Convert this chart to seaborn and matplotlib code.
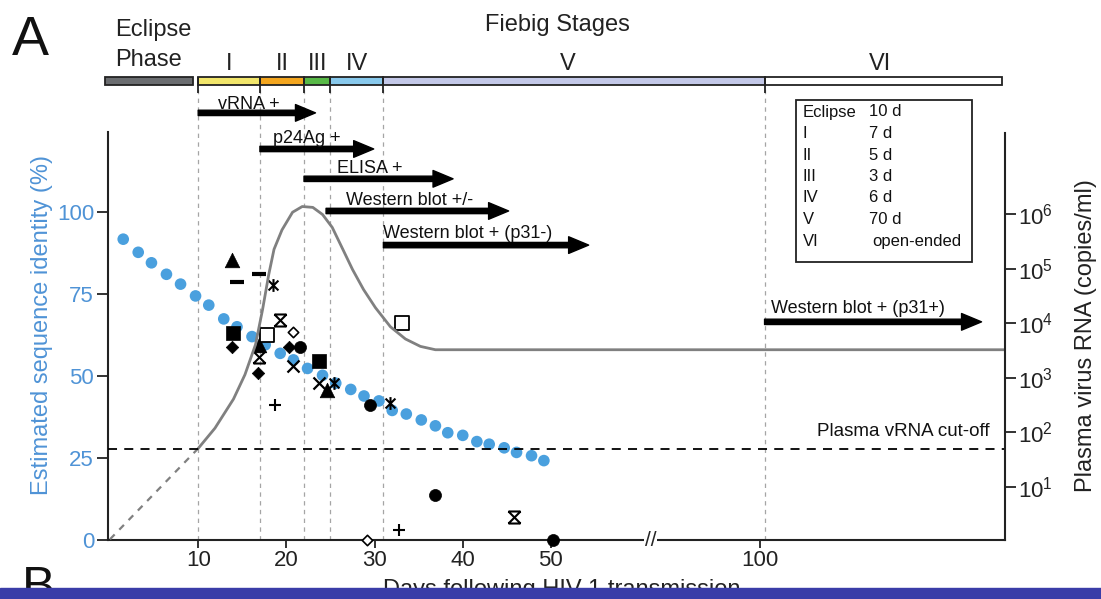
import numpy as np
import matplotlib
matplotlib.use("Agg")
import matplotlib.pyplot as plt
import seaborn as sns
from matplotlib.patches import Rectangle
from matplotlib.path import Path

# ---------------- data ----------------
seq_days = [1.5, 3.2, 4.7, 6.4, 8.0, 9.7, 11.2, 12.9, 14.4, 16.1, 17.6, 19.3, 20.8,
            22.4, 24.1, 25.6, 27.3, 28.8, 30.5, 32.0, 33.6, 35.3, 36.9, 38.3, 40.0,
            41.6, 43.0, 44.7, 46.1, 47.8, 49.2]
seq_identity = [91.7, 87.7, 84.5, 81.0, 78.0, 74.4, 71.6, 67.4, 65.0, 62.0, 59.5, 56.9,
                54.9, 52.3, 50.2, 47.8, 45.9, 43.9, 42.4, 39.5, 38.4, 36.6, 34.8, 32.7,
                31.9, 30.0, 29.2, 28.1, 26.7, 25.7, 24.2]

vl_early_days = [0, 10]
vl_early_copies = [1.1, 51]
vl_days = [10, 11.9, 14.0, 15.3, 16.5, 17.3, 18.0, 18.6, 19.5, 20.7, 21.8, 23.0, 24.1,
           25.2, 26.4, 27.5, 28.75, 30.1, 31.8, 33.5, 35.2, 36.9, 50, 100, 158.4]
vl_copies = [51, 120, 410, 1150, 4100, 18000, 79000, 230000, 520000, 1100000, 1400000,
             1350000, 1000000, 580000, 230000, 98000, 42000, 19500, 8700, 5200, 3800,
             3300, 3300, 3300, 3300]
cutoff_copies = 50

stage_labels = ["I", "II", "III", "IV", "V", "VI"]
stage_lengths = [10, 7, 5, 3, 6, 70, 56.6]
stage_colors = ["#6b6d70", "#f2e66b", "#f4a61f", "#58b947", "#88c9ec", "#c3c8e8", "#ffffff"]
legend_names = ["Eclipse", "I", "II", "III", "IV", "V", "VI"]
legend_durations = ["10 d", "7 d", "5 d", "3 d", "6 d", "70 d", "open-ended"]

assay_labels = ["vRNA +", "p24Ag +", "ELISA +", "Western blot +/-",
                "Western blot + (p31-)", "Western blot + (p31+)"]
assay_start = [10, 17, 22, 24.5, 31, 101]
assay_end = [23.3, 29.9, 38.9, 45.2, 59.0, 152.8]

tri_days = [13.8, 16.9, 24.6]
tri_ident = [85.4, 59.5, 45.7]
dash_days = [14.4, 16.9]
dash_ident = [78.6, 81.0]
sq_days = [14.0, 23.7]
sq_ident = [63.0, 54.7]
osq_days = [17.8, 33.1]
osq_ident = [62.5, 66.1]
dia_days = [13.8, 16.8, 20.3]
dia_ident = [58.8, 50.8, 58.8]
odia_days = [20.8, 29.1]
odia_ident = [63.5, 0.0]
circ_days = [21.5, 29.5, 36.9, 50.6]
circ_ident = [58.9, 41.2, 13.7, 0.0]
ast_days = [18.5, 25.4, 31.8]
ast_ident = [77.7, 47.8, 41.9]
x_days = [20.8, 23.7]
x_ident = [53.0, 47.8]
hg_days = [19.3, 16.9, 45.8]
hg_ident = [67.1, 55.9, 7.1]
plus_days = [18.75, 32.8]
plus_ident = [41.2, 3.0]

xtick_days = [10, 20, 30, 40, 50, 100]
xtick_labels = ["10", "20", "30", "40", "50", "100"]
left_ticks = [0, 25, 50, 75, 100]
right_ticks = [1e1, 1e2, 1e3, 1e4, 1e5, 1e6]
right_tick_labels = [r"$\mathregular{10^{%d}}$" % k for k in range(1, 7)]

# ---------------- style ----------------
sns.set_theme(style="white")
plt.rcParams["font.family"] = ["Liberation Sans", "DejaVu Sans"]
plt.rcParams["mathtext.fontset"] = "custom"
plt.rcParams["mathtext.rm"] = "Liberation Sans"

W, H = 1101, 599
fig = plt.figure(figsize=(W / 100, H / 100), dpi=100)
fig.patch.set_facecolor("white")

def fx(x):
    return x / W

def fy(y):
    return 1 - y / H

K = 0.475

def fwd(d):
    d = np.asarray(d, float)
    return np.where(d <= 50, d, 50 + (d - 50) * K)

def inv(t):
    t = np.asarray(t, float)
    return np.where(t <= 50, t, 50 + (t - 50) / K)

BLUE = "#4aa0de"
BLUE_TXT = "#4f93d6"

ax = fig.add_axes([fx(108), fy(540), (1005 - 108) / W, (540 - 85) / H])
ax.set_xscale("function", functions=(fwd, inv))
ax2 = ax.twinx()
ax2.set_yscale("log")
ax_bar = fig.add_axes([fx(108), fy(85), (1005 - 108) / W, 8 / H], sharex=ax)

XMIN, XMAX = -0.227, 158.4
YTOP = 138.7

# stage boundaries (vertical dashed lines)
bounds = list(np.cumsum(stage_lengths[:-1]))
ax.vlines(bounds, 0, YTOP, colors="#a5a5a5", linestyles=(0, (3.5, 3.5)), lw=0.9, zorder=1)

# sequence identity dots
sns.scatterplot(x=seq_days, y=seq_identity, ax=ax, color=BLUE, s=70, edgecolor="none",
                zorder=3, clip_on=False)

# patient markers
def pts(xs, ys, marker, s, fc="black", ec="black", lw=0.5):
    sns.scatterplot(x=xs, y=ys, ax=ax, marker=marker, s=s, color=fc, edgecolor=ec,
                    linewidth=lw, zorder=5, clip_on=False)

ast_path = Path([(-1, -1), (1, 1), (-1, 1), (1, -1), (0, -1.3), (0, 1.3)],
                [Path.MOVETO, Path.LINETO, Path.MOVETO, Path.LINETO, Path.MOVETO, Path.LINETO])
hg_path = Path([(-1, -1), (1, 1), (-1, 1), (1, -1), (-1, 1), (1, 1), (-1, -1), (1, -1)],
               [Path.MOVETO, Path.LINETO] * 4)

pts(tri_days, tri_ident, "^", 110)
pts(dash_days, dash_ident, "_", 100, lw=3)
pts(sq_days, sq_ident, "s", 90)
pts(osq_days, osq_ident, "s", 90, fc="white", lw=1.3)
pts(dia_days, dia_ident, "D", 40)
pts(odia_days, odia_ident, "D", 28, fc="white", lw=1.2)
pts(circ_days, circ_ident, "o", 75)
pts(ast_days, ast_ident, ast_path, 85, lw=1.5)
pts(x_days, x_ident, "x", 75, lw=1.6)
pts(hg_days, hg_ident, hg_path, 75, lw=1.5)
pts(plus_days, plus_ident, "+", 80, lw=1.5)

# viral load curve on right axis
sns.lineplot(x=vl_early_days, y=vl_early_copies, ax=ax2, color="#808080", lw=1.6,
             linestyle=(0, (3, 3)))
sns.lineplot(x=vl_days, y=vl_copies, ax=ax2, color="#808080", lw=2.0)
ax2.axhline(cutoff_copies, color="black", lw=1.3, ls=(0, (5, 4)))

# assay arrows
arrow_y = [130.2, 119.2, 110.1, 100.3, 89.9, 66.5]
text_x = [12.3, 18.5, 25.7, 26.8, 31.0, 102.6]
text_y = [131.4, 121.0, 111.9, 102.1, 92.1, 69.2]
for lab, s0, s1, yy, tx, ty in zip(assay_labels, assay_start, assay_end, arrow_y, text_x, text_y):
    ax.annotate("", xy=(s1, yy), xytext=(s0, yy), zorder=6,
                arrowprops=dict(arrowstyle="simple,head_length=1.2,head_width=1.0,tail_width=0.32",
                                mutation_scale=12, color="black", shrinkA=0, shrinkB=0))
    ax.text(tx, ty, lab, ha="left", va="baseline", fontsize=13, color="#111111", zorder=6)

# axis break mark
ax.text(73.8, 0, "//", ha="center", va="center", fontsize=15, clip_on=False,
        bbox=dict(fc="white", ec="none", pad=0.3), zorder=7)

# axes formatting
ax.set_xlim(XMIN, XMAX)
ax.set_ylim(0, YTOP)
ax2.set_ylim(10 ** 0.0275, 10 ** 8.376)
ax.set_xticks(xtick_days)
ax.set_xticklabels(xtick_labels)
ax.xaxis.set_minor_locator(matplotlib.ticker.NullLocator())
ax.set_yticks(left_ticks)
ax.set_yticklabels([str(v) for v in left_ticks])
ax2.set_yticks(right_ticks)
ax2.set_yticklabels(right_tick_labels)
ax2.yaxis.set_minor_locator(matplotlib.ticker.NullLocator())

for a in (ax, ax2):
    for sp in a.spines.values():
        sp.set_visible(False)
ax.spines["left"].set_visible(True)
ax.spines["bottom"].set_visible(True)
ax2.spines["right"].set_visible(True)
for sp in (ax.spines["left"], ax.spines["bottom"], ax2.spines["right"]):
    sp.set_color("#222222")
    sp.set_linewidth(1.5)
ax.spines["left"].set_bounds(0, 124.4)
ax2.spines["right"].set_bounds(10 ** 0.0275, 10 ** 7.49)

ax.tick_params(axis="x", direction="out", length=6, width=1.3, pad=1, labelsize=16,
               bottom=True, colors="#222222")
ax.tick_params(axis="y", direction="out", length=8, width=1.3, pad=2, labelsize=16,
               left=True, color="#222222", labelcolor=BLUE_TXT)
ax2.tick_params(axis="y", direction="out", length=8, width=1.3, pad=1.5, labelsize=16,
                right=True, colors="#222222")

ax.set_xlabel("Days following HIV-1 transmission", fontsize=17, color="#222222")
ax.xaxis.set_label_coords(0.506, -0.085)
ax.set_ylabel("Estimated sequence identity (%)", fontsize=17, color=BLUE_TXT)
ax.yaxis.set_label_coords(-0.061, 0.4725)
ax2.set_ylabel("Plasma virus RNA (copies/ml)", fontsize=17, color="#222222")
ax2.yaxis.set_label_coords(1.078, 0.45)
ax.grid(False)
ax2.grid(False)

# stage bar
starts = [-0.6] + bounds
ax_bar.barh(0.5, stage_lengths, left=starts, height=1, color=stage_colors,
            edgecolor="#222222", lw=1.3, clip_on=False)
ax_bar.vlines(bounds, -1, 1, colors="#222222", lw=1.3, clip_on=False)
ax_bar.set_ylim(0, 1)
ax_bar.axis("off")
label_x = [13.5, 19.5, 23.5, 28, 54, 128.5]
for lab, xx in zip(stage_labels, label_x):
    ax_bar.text(xx, 2.6, lab, ha="center", va="center", fontsize=17, color="#222222")

fig.text(fx(115), fy(30), "Eclipse", ha="left", va="center", fontsize=17, color="#222222")
fig.text(fx(115), fy(60), "Phase", ha="left", va="center", fontsize=17, color="#222222")
fig.text(fx(557), fy(25), "Fiebig Stages", ha="center", va="center", fontsize=17, color="#222222")
fig.text(fx(12), fy(41), "A", ha="left", va="center", fontsize=40, color="#111111")
fig.text(fx(22), fy(566), "B", ha="left", va="top", fontsize=36, color="#111111")

# stage duration box
fig.add_artist(Rectangle((fx(796), fy(262)), (972 - 796) / W, (262 - 100) / H,
                         transform=fig.transFigure, fill=False, ec="#222222", lw=1.3))
row_y = [112, 133, 155, 177, 198, 220, 242]
for nm, du, yy in zip(legend_names, legend_durations, row_y):
    fig.text(fx(803), fy(yy), nm, ha="left", va="center", fontsize=12, color="#111111")
    fig.text(fx(869 if du != "open-ended" else 872), fy(yy), du, ha="left", va="center",
             fontsize=12, color="#111111")

fig.text(fx(990), fy(432), "Plasma vRNA cut-off", ha="right", va="center", fontsize=13.5,
         color="#111111")

# bottom bar
fig.add_artist(Rectangle((0, 0), 1, 11 / H, transform=fig.transFigure, color="#3a3da8",
                         zorder=20))

fig.savefig("out.png", dpi=100)
